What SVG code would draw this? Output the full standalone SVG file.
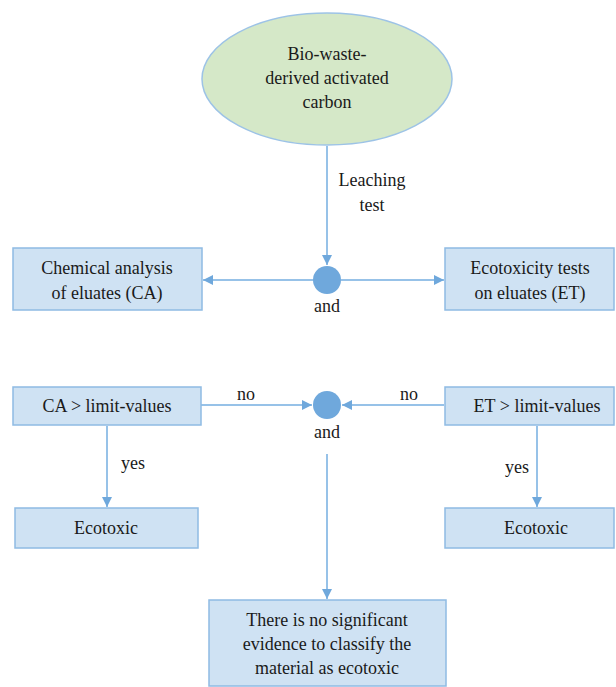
<svg xmlns="http://www.w3.org/2000/svg" width="616" height="687" viewBox="0 0 616 687">
<style>
.box{fill:#cfe2f3;stroke:#8fbbe3;stroke-width:1.5}
.t{font-size:18px;fill:#1a1a1a;text-anchor:middle}
.c{stroke:#74aee0;stroke-width:1.5;fill:none}
.dot{fill:#6fa8dc}
</style>
<defs>
<marker id="ah" viewBox="0 0 10 10" refX="10" refY="5" markerWidth="10" markerHeight="10" markerUnits="userSpaceOnUse" orient="auto">
<path d="M0,0 L10,5 L0,10 Z" fill="#6fa8dc"/>
</marker>
</defs>
<rect width="616" height="687" fill="#ffffff"/>
<g font-family="'Liberation Serif', 'Times New Roman', 'DejaVu Serif', serif">
<g id="connectors">
<line class="c" x1="327" y1="146" x2="327" y2="265" marker-end="url(#ah)"/>
<line class="c" x1="313" y1="280" x2="203" y2="280" marker-end="url(#ah)"/>
<line class="c" x1="341" y1="280" x2="444" y2="280" marker-end="url(#ah)"/>
<line class="c" x1="201" y1="405" x2="312" y2="405" marker-end="url(#ah)"/>
<line class="c" x1="444" y1="405" x2="342" y2="405" marker-end="url(#ah)"/>
<line class="c" x1="107" y1="426" x2="107" y2="507" marker-end="url(#ah)"/>
<line class="c" x1="537" y1="426" x2="537" y2="507" marker-end="url(#ah)"/>
<line class="c" x1="327" y1="454" x2="327" y2="599" marker-end="url(#ah)"/>
<text class="t" x="372" y="186">Leaching</text>
<text class="t" x="372" y="211">test</text>
<text class="t" x="246" y="400">no</text>
<text class="t" x="409" y="400">no</text>
<text class="t" x="133" y="469">yes</text>
<text class="t" x="517" y="473">yes</text>
</g>
<g id="start">
<ellipse cx="327" cy="79" rx="125" ry="66" fill="#d5e8c8" stroke="#9dc3e6" stroke-width="1.5"/>
<text class="t" x="327" y="60">Bio-waste-</text>
<text class="t" x="327" y="84">derived activated</text>
<text class="t" x="327" y="108">carbon</text>
</g>
<g id="and1">
<circle class="dot" cx="327" cy="280" r="14"/>
<text class="t" x="327" y="312">and</text>
</g>
<g id="ca">
<rect class="box" x="13" y="248" width="189" height="62"/>
<text class="t" x="107" y="274">Chemical analysis</text>
<text class="t" x="107" y="299">of eluates (CA)</text>
</g>
<g id="et">
<rect class="box" x="445" y="248" width="169" height="62"/>
<text class="t" x="530" y="274">Ecotoxicity tests</text>
<text class="t" x="530" y="299">on eluates (ET)</text>
</g>
<g id="and2">
<circle class="dot" cx="327" cy="405" r="14"/>
<text class="t" x="327" y="438">and</text>
</g>
<g id="calimit">
<rect class="box" x="13" y="387" width="188" height="38"/>
<text class="t" x="107" y="412">CA &gt; limit-values</text>
</g>
<g id="etlimit">
<rect class="box" x="445" y="387" width="169" height="38"/>
<text class="t" x="537" y="412">ET &gt; limit-values</text>
</g>
<g id="eco1">
<rect class="box" x="15" y="508" width="183" height="40"/>
<text class="t" x="106" y="534">Ecotoxic</text>
</g>
<g id="eco2">
<rect class="box" x="445" y="508" width="169" height="40"/>
<text class="t" x="536" y="534">Ecotoxic</text>
</g>
<g id="result">
<rect class="box" x="209" y="600" width="237" height="86"/>
<text class="t" x="327" y="626">There is no significant</text>
<text class="t" x="327" y="650">evidence to classify the</text>
<text class="t" x="327" y="674">material as ecotoxic</text>
</g>
</g>
</svg>
